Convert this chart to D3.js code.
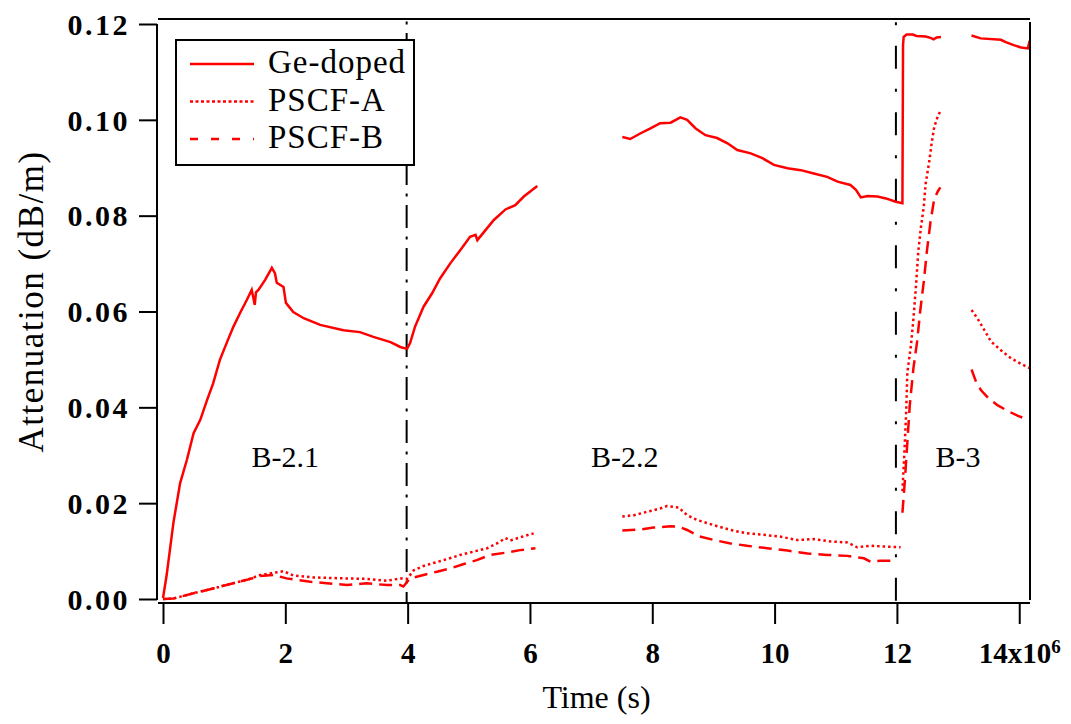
<!DOCTYPE html>
<html lang="en">
	<head>
		<meta charset="utf-8">
		<title>Attenuation vs time</title>
		<script type="text/javascript" src="https://cdn.jsdelivr.net/npm/d3@7"></script>
		<style type="text/css">
			body { margin: 0; background: #fff; }
		</style>
	</head>
	<body>
		<script type="text/javascript">

			// time in units of 1e6 s, attenuation in dB/m; null breaks a trace
			var geTime = [0, 0.06, 0.17, 0.28, 0.39, 0.5, 0.61, 0.72, 0.82, 0.93, 1.04, 1.15, 1.26, 1.37, 1.45, 1.5, 1.52, 1.56, 1.67, 1.78, 1.83, 1.86, 1.97, 2.01, 2.13, 2.30, 2.57, 2.95, 3.22, 3.44, 3.72, 3.88, 3.99, 4.04, 4.12, 4.26, 4.40, 4.53, 4.70, 4.86, 5.02, 5.11, 5.14, 5.30, 5.41, 5.60, 5.76, 5.90, 6.12,
				null,
				7.51, 7.64, 7.81, 7.97, 8.13, 8.30, 8.46, 8.57, 8.71, 8.87, 9.06, 9.23, 9.39, 9.61, 9.80, 9.99, 10.21, 10.43, 10.64, 10.86, 11.03, 11.24, 11.33, 11.41, 11.52, 11.68, 11.82, 11.98, 12.09,
				12.10, 12.11, 12.16, 12.26, 12.32, 12.47, 12.55, 12.60, 12.65, 12.72,
				null,
				13.22, 13.37, 13.70, 13.78, 13.91, 14.03, 14.14, 14.17];
			var geAtt = [0.0002, 0.005, 0.0159, 0.0242, 0.029, 0.0346, 0.0374, 0.0415, 0.045, 0.0499, 0.0534, 0.0568, 0.0597, 0.0624, 0.0645, 0.0614, 0.0640, 0.0645, 0.0666, 0.0691, 0.068, 0.066, 0.0651, 0.0618, 0.0599, 0.0586, 0.0572, 0.0561, 0.0557, 0.0547, 0.0536, 0.0526, 0.0522, 0.0534, 0.0568, 0.061, 0.0638, 0.0669, 0.0701, 0.0728, 0.0756, 0.076, 0.0749, 0.0774, 0.0791, 0.0813, 0.0822, 0.084, 0.0862,
				null,
				0.0964, 0.096, 0.0972, 0.0982, 0.0993, 0.0994, 0.1005, 0.1, 0.0982, 0.0968, 0.0962, 0.0951, 0.0937, 0.093, 0.092, 0.0906, 0.0899, 0.0895, 0.0888, 0.0881, 0.0871, 0.0864, 0.0854, 0.0838, 0.0841, 0.084, 0.0836, 0.0829, 0.0826,
				0.1156, 0.1173, 0.1178, 0.1178, 0.1175, 0.1174, 0.1171, 0.1168, 0.1172, 0.1173,
				null,
				0.1176, 0.117, 0.1167, 0.1162, 0.1156, 0.1151, 0.1149, 0.1165];

			var pscfATime = [0, 0.17, 0.5, 0.82, 1.15, 1.37, 1.59, 1.97, 2.13, 2.46, 2.95, 3.33, 3.66, 3.88, 3.99, 4.10, 4.26, 4.42, 4.64, 4.86, 5.08, 5.30, 5.46, 5.60, 5.68, 5.87, 6.06,
				null,
				7.51, 7.70, 7.92, 8.13, 8.24, 8.43, 8.57, 8.73, 9.01, 9.28, 9.55, 9.82, 10.10, 10.37, 10.64, 10.92, 11.19, 11.35, 11.57, 12.06,
				null,
				12.09, 12.12, 12.15, 12.17, 12.23, 12.27, 12.31, 12.35, 12.39, 12.44, 12.47, 12.53, 12.57, 12.61, 12.67, 12.71,
				null,
				13.22, 13.32, 13.43, 13.54, 13.71, 13.87, 14.04, 14.17];
			var pscfAAtt = [0, 0.0001, 0.0012, 0.0022, 0.0033, 0.004, 0.005, 0.0058, 0.0049, 0.0045, 0.0043, 0.0042, 0.0038, 0.0043, 0.0042, 0.006, 0.0069, 0.0075, 0.0083, 0.0092, 0.0099, 0.0106, 0.0116, 0.0127, 0.0122, 0.013, 0.0137,
				null,
				0.0172, 0.0175, 0.0182, 0.0189, 0.0194, 0.0191, 0.0175, 0.0165, 0.0154, 0.0144, 0.0137, 0.0134, 0.013, 0.0123, 0.0125, 0.012, 0.0118, 0.0108, 0.0111, 0.0108,
				null,
				0.0225, 0.0300, 0.0385, 0.0472, 0.0530, 0.0585, 0.0650, 0.0726, 0.0773, 0.0820, 0.0867, 0.0914, 0.0953, 0.0985, 0.1008, 0.1018,
				null,
				0.0603, 0.0585, 0.0561, 0.0537, 0.0518, 0.0502, 0.049, 0.0482];

			var pscfBTime = [0, 0.17, 0.5, 0.82, 1.15, 1.37, 1.59, 1.81, 2.02, 2.41, 2.68, 3.01, 3.33, 3.66, 3.88, 3.93, 4.04, 4.26, 4.48, 4.70, 4.92, 5.13, 5.35, 5.62, 5.84, 6.09,
				null,
				7.51, 7.81, 8.02, 8.30, 8.43, 8.57, 8.76, 9.01, 9.28, 9.55, 9.88, 10.21, 10.54, 10.86, 11.19, 11.46, 11.57, 11.73, 12.00,
				null,
				12.09, 12.13, 12.17, 12.21, 12.27, 12.33, 12.38, 12.44, 12.49, 12.55, 12.61, 12.67, 12.71,
				null,
				13.22, 13.30, 13.38, 13.49, 13.65, 13.82, 13.98, 14.15];
			var pscfBAtt = [0, 0.0001, 0.0012, 0.0022, 0.0033, 0.004, 0.0048, 0.005, 0.0043, 0.0036, 0.0033, 0.0029, 0.0033, 0.0029, 0.0029, 0.0026, 0.0043, 0.005, 0.0057, 0.0064, 0.0073, 0.0081, 0.0092, 0.0097, 0.0102, 0.0106,
				null,
				0.0143, 0.0145, 0.0149, 0.0152, 0.0151, 0.0144, 0.0131, 0.0123, 0.0116, 0.0111, 0.0106, 0.0101, 0.0095, 0.0092, 0.009, 0.0085, 0.0078, 0.008, 0.008,
				null,
				0.018, 0.0247, 0.0326, 0.0404, 0.0482, 0.0537, 0.06, 0.0663, 0.0726, 0.0788, 0.0835, 0.0851, 0.0859,
				null,
				0.0479, 0.0451, 0.0435, 0.042, 0.0404, 0.0392, 0.0382, 0.0374];

			var seriesNames = ["Ge-doped", "PSCF-A", "PSCF-B"];
			var xTicks = [0, 2, 4, 6, 8, 10, 12, 14];
			var yTicks = [0, 0.02, 0.04, 0.06, 0.08, 0.10, 0.12];
			var stageTimes = [4, 12];
			var stageLabels = ["B-2.1", "B-2.2", "B-3"];
			var stageLabelTime = [2.0, 7.55, 13.0];
			var stageLabelAtt = 0.0275;

			var w = 1071;
			var h = 724;
			var serif = "'Liberation Serif', 'Times New Roman', serif";

			var xScale = d3.scaleLinear()
						   .domain([0, 14.176])
						   .range([163, 1030]);

			var yScale = d3.scaleLinear()
						   .domain([0, 0.12])
						   .range([599, 24]);

			// frame edges (Igor-style offset axes)
			var leftX = xScale(0) - 6;
			var rightX = xScale.range()[1];
			var topY = yScale(0.12) - 5;
			var bottomY = yScale(0) + 4;

			function toPoints(ts, as) {
				return ts.map(function(t, i) { return { t: t, a: as[i] }; });
			}

			var line = d3.line()
						 .defined(function(d) { return d.t !== null && d.a !== null; })
						 .x(function(d) { return xScale(d.t); })
						 .y(function(d) { return yScale(d.a); });

			var svg = d3.select("body")
						.append("svg")
						.attr("width", w)
						.attr("height", h);

			//Stage separators (dash-dot)
			var sepDash = ["23,8.5,3,8.5", "23,20,3,20.5"];
			var sepOffset = [29, 39.8];
			svg.selectAll("line.stage")
			   .data(stageTimes)
			   .enter()
			   .append("line")
			   .attr("class", "stage")
			   .attr("x1", function(d) { return xScale(d) - 1; })
			   .attr("x2", function(d) { return xScale(d) - 1; })
			   .attr("y1", topY)
			   .attr("y2", bottomY)
			   .attr("stroke", "#000")
			   .attr("stroke-width", 2)
			   .attr("stroke-dasharray", function(d, i) { return sepDash[i]; })
			   .attr("stroke-dashoffset", function(d, i) { return sepOffset[i]; });

			//Traces
			var traces = [
				{ pts: toPoints(pscfBTime, pscfBAtt), dash: "13,7" },
				{ pts: toPoints(pscfATime, pscfAAtt), dash: "2.5,3" },
				{ pts: toPoints(geTime, geAtt), dash: null }
			];

			svg.selectAll("path.trace")
			   .data(traces)
			   .enter()
			   .append("path")
			   .attr("class", "trace")
			   .attr("d", function(d) { return line(d.pts); })
			   .attr("fill", "none")
			   .attr("stroke", "#ff0000")
			   .attr("stroke-width", 2.5)
			   .attr("stroke-dasharray", function(d) { return d.dash; });

			//Stage labels
			svg.selectAll("text.stage")
			   .data(stageLabels)
			   .enter()
			   .append("text")
			   .attr("class", "stage")
			   .attr("x", function(d, i) { return xScale(stageLabelTime[i]); })
			   .attr("y", yScale(stageLabelAtt))
			   .attr("text-anchor", "middle")
			   .style("font-family", serif)
			   .style("font-size", "30px")
			   .text(function(d) { return d; });

			//Frame
			var frame = [
				[leftX, yScale(0.12), leftX, yScale(0) + 1],
				[leftX + 1, bottomY, rightX, bottomY],
				[leftX + 1, topY, rightX, topY],
				[rightX, topY + 3, rightX, yScale(0) + 1]
			];
			svg.selectAll("line.frame")
			   .data(frame)
			   .enter()
			   .append("line")
			   .attr("class", "frame")
			   .attr("x1", function(d) { return d[0]; })
			   .attr("y1", function(d) { return d[1]; })
			   .attr("x2", function(d) { return d[2]; })
			   .attr("y2", function(d) { return d[3]; })
			   .attr("stroke", "#000")
			   .attr("stroke-width", 2);

			//Define X axis
			var xAxis = d3.axisBottom()
						  .scale(xScale)
						  .tickValues(xTicks)
						  .tickSize(21)
						  .tickSizeOuter(0)
						  .tickFormat(function(d) { return d === 14 ? "14x10" : d; });

			//Define Y axis
			var yAxis = d3.axisLeft()
						  .scale(yScale)
						  .tickValues(yTicks)
						  .tickSize(18)
						  .tickSizeOuter(0)
						  .tickFormat(d3.format(".2f"));

			//Create X axis
			var gx = svg.append("g")
						.attr("class", "axis")
						.attr("transform", "translate(0," + bottomY + ")")
						.call(xAxis);
			gx.select(".domain").remove();
			gx.selectAll(".tick line").attr("stroke", "#000").attr("stroke-width", 2);
			gx.selectAll(".tick text")
			  .attr("y", 60)
			  .attr("dy", null)
			  .attr("fill", "#000")
			  .style("font-family", serif)
			  .style("font-weight", "bold")
			  .style("font-size", "29px");
			gx.selectAll(".tick text")
			  .filter(function(d) { return d === 14; })
			  .append("tspan")
			  .attr("dy", "-0.55em")
			  .style("font-size", "19px")
			  .text("6");

			//Create Y axis
			var gy = svg.append("g")
						.attr("class", "axis")
						.attr("transform", "translate(" + leftX + ",0)")
						.call(yAxis);
			gy.select(".domain").remove();
			gy.selectAll(".tick line").attr("stroke", "#000").attr("stroke-width", 2);
			gy.selectAll(".tick text")
			  .attr("x", -27)
			  .attr("dy", "0.34em")
			  .attr("fill", "#000")
			  .style("font-family", serif)
			  .style("font-weight", "bold")
			  .style("font-size", "30px")
			  .style("letter-spacing", "2.5px");

			//Axis titles
			svg.append("text")
			   .attr("x", (xScale(0) + rightX) / 2)
			   .attr("y", 708)
			   .attr("text-anchor", "middle")
			   .style("font-family", serif)
			   .style("font-size", "32px")
			   .text("Time (s)");

			svg.append("text")
			   .attr("transform", "translate(43," + ((yScale(0) + yScale(0.12)) / 2 - 10) + ") rotate(-90)")
			   .attr("text-anchor", "middle")
			   .style("font-family", serif)
			   .style("font-size", "35px")
			   .style("letter-spacing", "1.5px")
			   .text("Attenuation (dB/m)");

			//Legend
			var legend = svg.append("g")
							.attr("transform", "translate(176,40)");
			legend.append("rect")
				  .attr("width", 238)
				  .attr("height", 125)
				  .attr("fill", "#fff")
				  .attr("stroke", "#000")
				  .attr("stroke-width", 2);

			var legendDash = [null, "3,2.5", "8,13"];
			var rows = legend.selectAll("g.row")
							 .data(seriesNames)
							 .enter()
							 .append("g")
							 .attr("class", "row")
							 .attr("transform", function(d, i) { return "translate(0," + (33 + i * 37.5) + ")"; });
			rows.append("line")
				.attr("x1", 14)
				.attr("x2", 78)
				.attr("y1", -9)
				.attr("y2", -9)
				.attr("stroke", "#ff0000")
				.attr("stroke-width", 2.5)
				.attr("stroke-dasharray", function(d, i) { return legendDash[i]; });
			rows.append("text")
				.attr("x", 92)
				.style("font-family", serif)
				.style("font-size", "33px")
				.style("letter-spacing", "1px")
				.text(function(d) { return d; });

		</script>
	</body>
</html>
